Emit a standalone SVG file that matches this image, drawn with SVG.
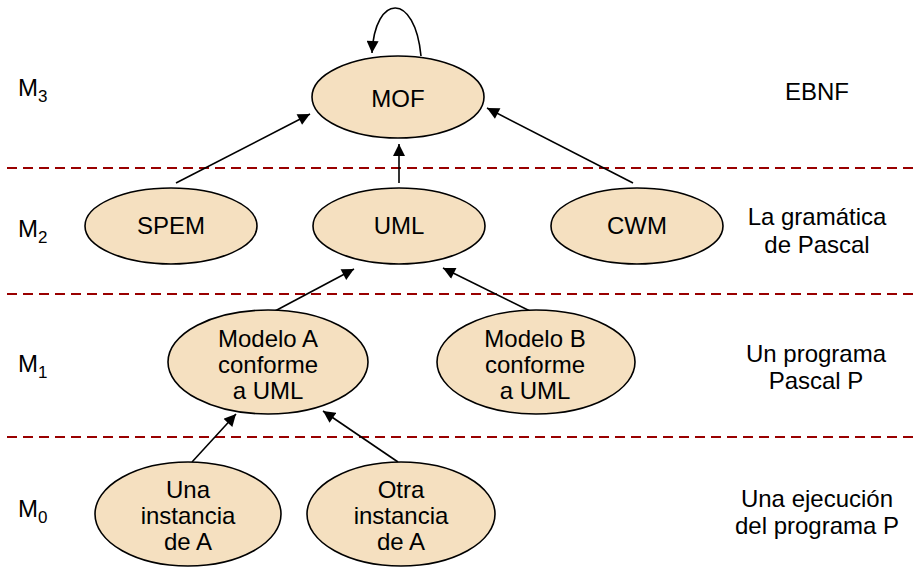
<svg xmlns="http://www.w3.org/2000/svg" width="915" height="568" viewBox="0 0 915 568">
<style>
.n{fill:#F5E0C0;stroke:#000;stroke-width:1.6}
.t{font-family:"Liberation Sans",Arial,sans-serif;font-size:24px;fill:#000;text-anchor:middle}
.l{font-family:"Liberation Sans",Arial,sans-serif;font-size:24px;fill:#000}
.s{font-size:17px}
.d{stroke:#990000;stroke-width:1.8;stroke-dasharray:10 6;fill:none}
.c{stroke:#000;stroke-width:1.6;fill:none;marker-end:url(#a)}
</style>
<defs>
<marker id="a" viewBox="0 0 10 10" refX="10" refY="5" markerWidth="13" markerHeight="12" markerUnits="userSpaceOnUse" orient="auto"><path d="M0,0 L10,5 L0,10 z" fill="#000"/></marker>
</defs>
<g id="levels">
<line class="d" x1="7" y1="168" x2="915" y2="168"/>
<line class="d" x1="7" y1="294" x2="915" y2="294"/>
<line class="d" x1="7" y1="437" x2="915" y2="437"/>
<text class="l" x="18" y="96">M<tspan class="s" dy="6">3</tspan></text>
<text class="l" x="18" y="237">M<tspan class="s" dy="6">2</tspan></text>
<text class="l" x="18" y="372">M<tspan class="s" dy="6">1</tspan></text>
<text class="l" x="18" y="517">M<tspan class="s" dy="6">0</tspan></text>
<text class="t" x="817" y="100">EBNF</text>
<text class="t" x="817" y="225">La gramática</text>
<text class="t" x="817" y="253">de Pascal</text>
<text class="t" x="816" y="362">Un programa</text>
<text class="t" x="816" y="389">Pascal P</text>
<text class="t" x="817" y="507">Una ejecución</text>
<text class="t" x="817" y="534">del programa P</text>
</g>
<g id="connectors">
<path class="c" d="M421,56 C415,-8 375,-7 372,53"/>
<line class="c" x1="176" y1="183" x2="310" y2="114"/>
<line class="c" x1="399" y1="183" x2="399" y2="144"/>
<line class="c" x1="633" y1="183" x2="487" y2="108"/>
<line class="c" x1="275" y1="311" x2="354" y2="269"/>
<line class="c" x1="530" y1="311" x2="443" y2="268"/>
<line class="c" x1="192" y1="462" x2="236" y2="414"/>
<line class="c" x1="398" y1="462" x2="323" y2="411"/>
</g>
<g id="MOF"><ellipse class="n" cx="398" cy="97" rx="86" ry="41"/><text class="t" x="398" y="107">MOF</text></g>
<g id="SPEM"><ellipse class="n" cx="171" cy="226" rx="86" ry="38"/><text class="t" x="171" y="234">SPEM</text></g>
<g id="UML"><ellipse class="n" cx="399" cy="226" rx="86" ry="38"/><text class="t" x="399" y="234">UML</text></g>
<g id="CWM"><ellipse class="n" cx="637" cy="226" rx="86" ry="38"/><text class="t" x="637" y="234">CWM</text></g>
<g id="ModeloA"><ellipse class="n" cx="268" cy="362" rx="100" ry="52"/><text class="t" x="268" y="347">Modelo A</text><text class="t" x="268" y="373">conforme</text><text class="t" x="268" y="399">a UML</text></g>
<g id="ModeloB"><ellipse class="n" cx="536" cy="362" rx="99" ry="52"/><text class="t" x="535" y="347">Modelo B</text><text class="t" x="535" y="373">conforme</text><text class="t" x="535" y="399">a UML</text></g>
<g id="UnaInstancia"><ellipse class="n" cx="188" cy="514" rx="93" ry="52"/><text class="t" x="188" y="498">Una</text><text class="t" x="188" y="524">instancia</text><text class="t" x="188" y="550">de A</text></g>
<g id="OtraInstancia"><ellipse class="n" cx="401" cy="514" rx="94" ry="52"/><text class="t" x="401" y="498">Otra</text><text class="t" x="401" y="524">instancia</text><text class="t" x="401" y="550">de A</text></g>
</svg>
